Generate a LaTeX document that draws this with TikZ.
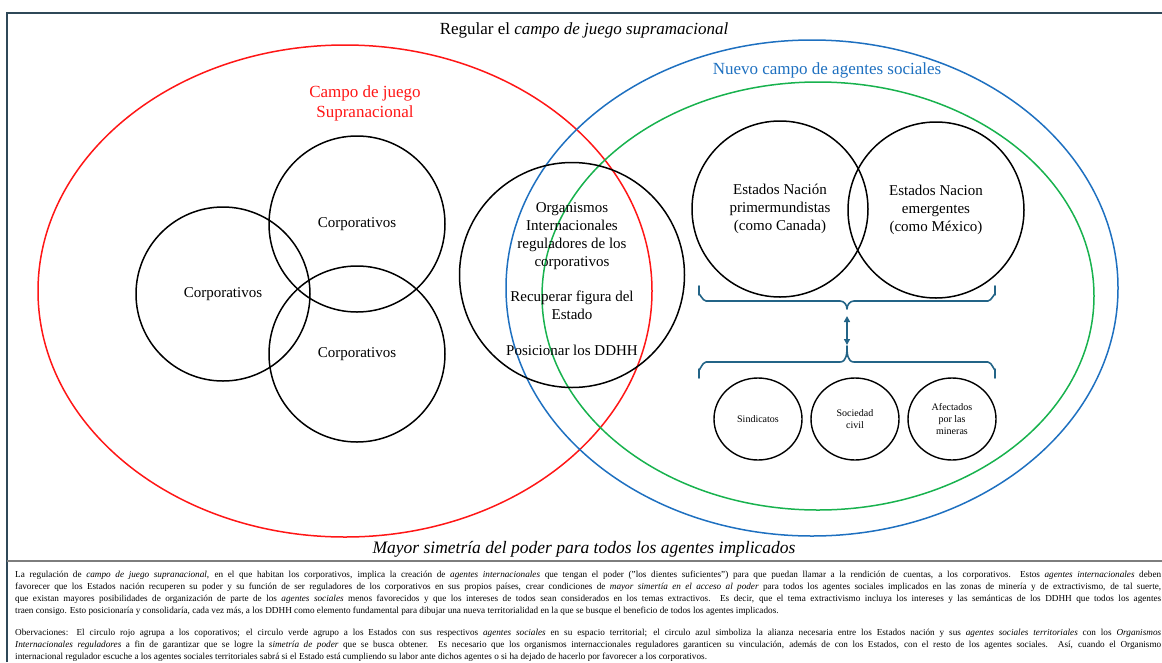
\documentclass[tikz,border=0pt]{standalone}
\usepackage{fontspec}
\setmainfont{Liberation Serif}
\usetikzlibrary{shapes.geometric,arrows.meta}
\definecolor{frameC}{RGB}{47,72,88}
\definecolor{sepC}{RGB}{125,125,125}
\definecolor{redC}{RGB}{255,22,22}
\definecolor{blueC}{RGB}{30,112,192}
\definecolor{greenC}{RGB}{24,178,78}
\definecolor{braceC}{RGB}{35,100,135}
\newcommand\jline[1]{\makebox[1146pt][s]{#1}}
\begin{document}
\begin{tikzpicture}[x=1pt,y=-1pt,
  field/.style={ellipse,draw,line width=1.5pt,inner sep=0pt},
  actor/.style={circle,draw=black,line width=1.5pt,inner sep=0pt,minimum size=176pt,
                align=center,font=\fontsize{15}{17.8}\selectfont},
  agent/.style={ellipse,draw=black,line width=1.4pt,inner sep=0pt,minimum width=88pt,
                minimum height=82pt,align=center,font=\fontsize{10}{11.6}\selectfont},
  heading/.style={inner sep=0pt,align=center,font=\fontsize{17}{20}\selectfont},
  foot/.style={anchor=base west,inner sep=0pt,font=\fontsize{9.2}{10}\selectfont},
  brace/.style={draw=braceC,line width=1.6pt,line cap=round,line join=round}]
\useasboundingbox (0,0) rectangle (1162,662);

% frame of the diagram and separator above the notes
\draw[frameC,line width=1.8pt] (7,662) -- (7,13) -- (1163,13);
\draw[sepC,line width=1.6pt] (7,561) -- (1163,561);

% the three fields
\node[field,draw=redC,minimum width=614pt,minimum height=492pt] (redfield) at (345,291) {};
\node[field,draw=blueC,minimum width=612pt,minimum height=496pt] (bluefield) at (812,288) {};
\node[field,draw=greenC,minimum width=552pt,minimum height=428pt] (greenfield) at (818,296) {};

% corporations
\node[actor,minimum size=174pt] (corpL) at (223,294) {Corporativos};
\node[actor] (corpT) at (357,224) {Corporativos};
\node[actor] (corpB) at (357,354) {Corporativos};

% international regulators
\node[actor,minimum size=225pt] (regul) at (572,275) {};
\node[inner sep=0pt,align=center,font=\fontsize{15}{17.8}\selectfont] (regtext) at (572,279)
  {Organismos\\Internacionales\\reguladores de los\\corporativos\\[17.8pt]
   Recuperar figura del\\Estado\\[17.8pt]Posicionar los DDHH};

% nation states
\node[actor] (stateA) at (780,209) {Estados Nación\\primermundistas\\(como Canada)};
\node[actor] (stateB) at (936,210) {Estados Nacion\\emergentes\\(como México)};

% social agents
\node[agent] (sind) at (758,419) {Sindicatos};
\node[agent] (soc) at (855,419) {Sociedad\\civil};
\node[agent] (afect) at (952,419) {Afectados\\por las\\mineras};

% braces joining states and social agents
\coordinate (topTip) at (847,309);
\coordinate (botTip) at (847,346);
\draw[brace] (699,286) -- (699,295) to[out=90,in=180] (706,301) -- (840,301)
  to[out=0,in=90] (topTip) to[out=90,in=180] (854,301) -- (988,301)
  to[out=0,in=90] (995,295) -- (995,286);
\draw[brace] (699,378) -- (699,369) to[out=-90,in=180] (706,362) -- (840,362)
  to[out=0,in=-90] (botTip) to[out=-90,in=180] (854,362) -- (988,362)
  to[out=0,in=-90] (995,369) -- (995,378);
\draw[brace,{Triangle[length=6pt,width=6pt]}-{Triangle[length=6pt,width=6pt]},
  shorten <=7pt,shorten >=1pt] (topTip) -- (botTip);

% headings
\node[heading] (title) at (584,30) {Regular el \textit{campo de juego supramacional}};
\node[heading,text=redC] (redlabel) at (365,103) {Campo de juego\\Supranacional};
\node[heading,text=blueC] (bluelabel) at (827,70) {Nuevo campo de agentes sociales};
\node[heading,font=\fontsize{17.5}{20}\selectfont] (motto) at (584,549)
  {\textit{Mayor simetría del poder para todos los agentes implicados}};

% notes
\node[foot] (n1) at (15,577) {\jline{La regulación de \textit{campo de juego supranacional,} en el que habitan los corporativos, implica la creación de \textit{agentes internacionales} que tengan el poder ("los dientes suficientes") para que puedan llamar a la rendición de cuentas, a los corporativos.\ \ Estos \textit{agentes internacionales} deben}};
\node[foot] (n2) at (15,589) {\jline{favorecer que los Estados nación recuperen su poder y su función de ser reguladores de los corporativos en sus propios países, crear condiciones de \textit{mayor simertía en el acceso al poder} para todos los agentes sociales implicados en las zonas de minería y de extractivismo, de tal suerte,}};
\node[foot] (n3) at (15,601) {\jline{que existan mayores posibilidades de organización de parte de los \textit{agentes sociales} menos favorecidos y que los intereses de todos sean considerados en los temas extractivos. Es decir, que el tema extractivismo incluya los intereses y las semánticas de los DDHH que todos los agentes}};
\node[foot] (n4) at (15,613) {traen consigo. Esto posicionaría y consolidaría, cada vez más, a los DDHH como elemento fundamental para dibujar una nueva territorialidad en la que se busque el beneficio de todos los agentes implicados.};
\node[foot] (n5) at (15,635) {\jline{Obervaciones: El circulo rojo agrupa a los coporativos; el circulo verde agrupo a los Estados con sus respectivos \textit{agentes sociales} en su espacio territorial; el circulo azul simboliza la alianza necesaria entre los Estados nación y sus \textit{agentes sociales territoriales} con los \textit{Organismos}}};
\node[foot] (n6) at (15,647) {\jline{\textit{Internacionales reguladores} a fin de garantizar que se logre la \textit{simetría de poder} que se busca obtener. Es necesario que los organismos internaccionales reguladores garanticen su vinculación, además de con los Estados, con el resto de los agentes sociales. Así, cuando el Organismo}};
\node[foot] (n7) at (15,659) {internacional regulador escuche a los agentes sociales territoriales sabrá si el Estado está cumpliendo su labor ante dichos agentes o si ha dejado de hacerlo por favorecer a los corporativos.};
\end{tikzpicture}
\end{document}
